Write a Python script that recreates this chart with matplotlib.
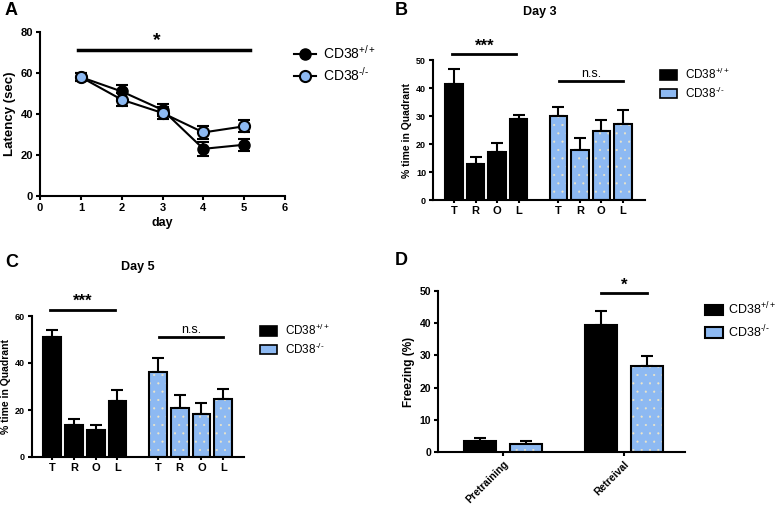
import numpy as np
import matplotlib
matplotlib.use('Agg')
import matplotlib.pyplot as plt
from matplotlib.lines import Line2D
from matplotlib.patches import Patch

plt.rcParams['font.family'] = ['Liberation Sans', 'DejaVu Sans']
plt.rcParams['mathtext.fontset'] = 'custom'
plt.rcParams['mathtext.rm'] = 'Liberation Sans'
plt.rcParams['hatch.linewidth'] = 0.3

# ---- data ----
days = [1, 2, 3, 4, 5]
lat_wt = [58, 51, 42, 23, 25]
lat_wt_err = [2, 3, 3, 3.5, 3]
lat_ko = [58, 47, 40.5, 31, 34]
lat_ko_err = [2, 3, 3, 3, 3]

quadrants = ['T', 'R', 'O', 'L']
d3_wt = [41.5, 13, 17, 29]
d3_wt_err = [5.2, 2.4, 3.5, 1.4]
d3_ko = [30, 18, 24.7, 27.3]
d3_ko_err = [3.3, 4, 3.9, 5]

d5_wt = [51, 13.5, 11.5, 24]
d5_wt_err = [3, 2.5, 2, 4.5]
d5_ko = [36, 21, 18.5, 24.5]
d5_ko_err = [6, 5.5, 4.5, 4.5]

phases = ['Pretraining', 'Retreival']
frz_wt = [3.5, 39.5]
frz_wt_err = [0.8, 4.3]
frz_ko = [2.6, 26.7]
frz_ko_err = [0.8, 3.0]

lab_wt = r'CD38$^{\mathregular{+/+}}$'
lab_ko = 'CD38$^{\\mathregular{\u2010/\u2010}}$'
blue = '#8db9f2'

W, H = 778, 513
fig = plt.figure(figsize=(W / 100, H / 100), dpi=100)


def add_ax(left, right, top, bottom):
    return fig.add_axes([left / W, 1 - bottom / H, (right - left) / W, (bottom - top) / H])


def style(ax, fs):
    for s in ['top', 'right']:
        ax.spines[s].set_visible(False)
    for s in ['left', 'bottom']:
        ax.spines[s].set_linewidth(1.5)
    ax.tick_params(width=1.5, length=3, labelsize=fs, pad=2)
    for t in ax.get_xticklabels() + ax.get_yticklabels():
        t.set_fontweight('bold')


def blue_bars(ax, x, h, w, err):
    ax.bar(x, h, w, color=blue, edgecolor='#efe6c8', hatch='..', linewidth=0, zorder=2)
    ax.bar(x, h, w, color='none', edgecolor='black', linewidth=1.5, zorder=3)
    ax.errorbar(x, h, yerr=[np.zeros(len(h)), err], fmt='none', ecolor='black',
                elinewidth=1.5, capsize=4, capthick=1.5, zorder=1)


def black_bars(ax, x, h, w, err):
    ax.bar(x, h, w, color='black', edgecolor='black', linewidth=1.5, zorder=2)
    ax.errorbar(x, h, yerr=[np.zeros(len(h)), err], fmt='none', ecolor='black',
                elinewidth=1.5, capsize=4, capthick=1.5, zorder=1)


def sig(ax, x0, x1, y, txt, dy, fs, weight='bold'):
    ax.plot([x0, x1], [y, y], color='black', lw=2, clip_on=False)
    ax.text((x0 + x1) / 2, y + dy, txt, ha='center', va='bottom', fontsize=fs,
            fontweight=weight)


def legend_box(handles, x, y, fs, **kw):
    fig.legend(handles=handles, loc='upper left', bbox_to_anchor=(x / W, 1 - y / H),
               frameon=False, fontsize=fs, borderaxespad=0, **kw)


# ---- A ----
ax = add_ax(40, 285, 32, 196)
ax.errorbar(days, lat_wt, yerr=lat_wt_err, color='black', marker='o', ms=8,
            mfc='black', mec='black', lw=1.5, capsize=4, capthick=1.5, elinewidth=1.5)
ax.errorbar(days, lat_ko, yerr=lat_ko_err, color='black', marker='o', ms=8,
            mfc=blue, mec='black', mew=1.5, lw=1.5, capsize=4, capthick=1.5, elinewidth=1.5)
ax.set_xlim(0, 6)
ax.set_ylim(0, 80)
ax.set_xticks(range(7))
ax.set_yticks(range(0, 81, 20))
ax.set_xlabel('day', fontsize=9, fontweight='bold', labelpad=3)
ax.set_ylabel('Latency (sec)', fontsize=9.5, fontweight='bold', labelpad=3)
style(ax, 8)
ax.plot([0.93, 5.15], [71, 71], color='black', lw=2.5, clip_on=False)
ax.text(2.85, 71.5, '*', ha='center', va='bottom', fontsize=14, fontweight='bold')
legend_box([Line2D([], [], color='black', marker='o', ms=8, lw=1.5),
            Line2D([], [], color='black', marker='o', ms=8, mfc=blue, mew=1.5, lw=1.5)],
           288, 38, 10, labels=[lab_wt, lab_ko], handlelength=1.6, handletextpad=0.5,
           labelspacing=0.3)
fig.text(5 / W, 1 - 2 / H, 'A', fontsize=13, fontweight='bold', va='top')


# ---- B / C ----
def quad_panel(box, wt, wte, ko, koe, ymax, ystep, xl, title, tpos, letter, lpos,
               star_y, ns_y, star_dy, leg):
    ax = add_ax(*box)
    xw = np.arange(4)
    xk = np.arange(4) + 4.85
    black_bars(ax, xw, wt, 0.82, wte)
    blue_bars(ax, xk, ko, 0.82, koe)
    ax.set_xlim(*xl)
    ax.set_ylim(0, ymax)
    ax.set_yticks(np.arange(0, ymax + 1, ystep))
    ax.set_xticks(np.concatenate([xw, xk]))
    ax.set_xticklabels(quadrants * 2)
    ax.set_ylabel('% time in Quadrant', fontsize=7.5, fontweight='bold', labelpad=3)
    style(ax, 6.5)
    ax.tick_params(axis='x', labelsize=8, length=2.5)
    for t in ax.get_xticklabels():
        t.set_fontweight('bold')
    sig(ax, -0.1, 2.9, star_y, '***', star_dy, 12)
    sig(ax, 4.9, 7.85, ns_y, 'n.s.', star_dy, 9, weight='normal')
    fig.text(tpos[0] / W, 1 - tpos[1] / H, title, fontsize=9, fontweight='bold',
             ha='center', va='center')
    fig.text(lpos[0] / W, 1 - lpos[1] / H, letter, fontsize=13, fontweight='bold', va='top')
    legend_box([Patch(facecolor='black', edgecolor='black', lw=1.2),
                Patch(facecolor=blue, edgecolor='black', lw=1.2)],
               leg[0], leg[1], 8.5, labels=[lab_wt, lab_ko], handlelength=1.5,
               handleheight=0.9, handletextpad=0.6, labelspacing=0.3)
    return ax


quad_panel((433, 645, 60, 200), d3_wt, d3_wt_err, d3_ko, d3_ko_err, 50, 10,
           (-0.98, 8.88), 'Day 3', (540, 12), 'B', (395, 2), 52.1, 42.5, 0.3, (655, 62))
quad_panel((32, 244, 316, 457), d5_wt, d5_wt_err, d5_ko, d5_ko_err, 60, 20,
           (-0.92, 8.8), 'Day 5', (138, 267), 'C', (5, 254), 62.5, 51, 0.4, (255, 318))

# ---- D ----
ax = add_ax(438, 685, 291, 452)
xg = np.arange(len(phases))
black_bars(ax, xg - 0.19, frz_wt, 0.27, frz_wt_err)
blue_bars(ax, xg + 0.19, frz_ko, 0.27, frz_ko_err)
ax.set_xlim(-0.537, 1.504)
ax.set_ylim(0, 50)
ax.set_yticks(range(0, 51, 10))
ax.set_xticks(xg)
ax.set_xticklabels(phases, rotation=45, ha='right', rotation_mode='anchor')
ax.set_ylabel('Freezing (%)', fontsize=8.5, fontweight='bold', labelpad=3)
style(ax, 7.5)
sig(ax, 0.81, 1.19, 49.4, '*', 0.2, 12)
legend_box([Patch(facecolor='black', edgecolor='black', lw=1.5),
            Patch(facecolor=blue, edgecolor='black', lw=1.5)],
           700, 296, 9, labels=[lab_wt, lab_ko], handlelength=1.4,
           handleheight=0.9, handletextpad=0.4, labelspacing=0.45)
fig.text(395 / W, 1 - 252 / H, 'D', fontsize=13, fontweight='bold', va='top')

fig.savefig('out.png', dpi=100)
